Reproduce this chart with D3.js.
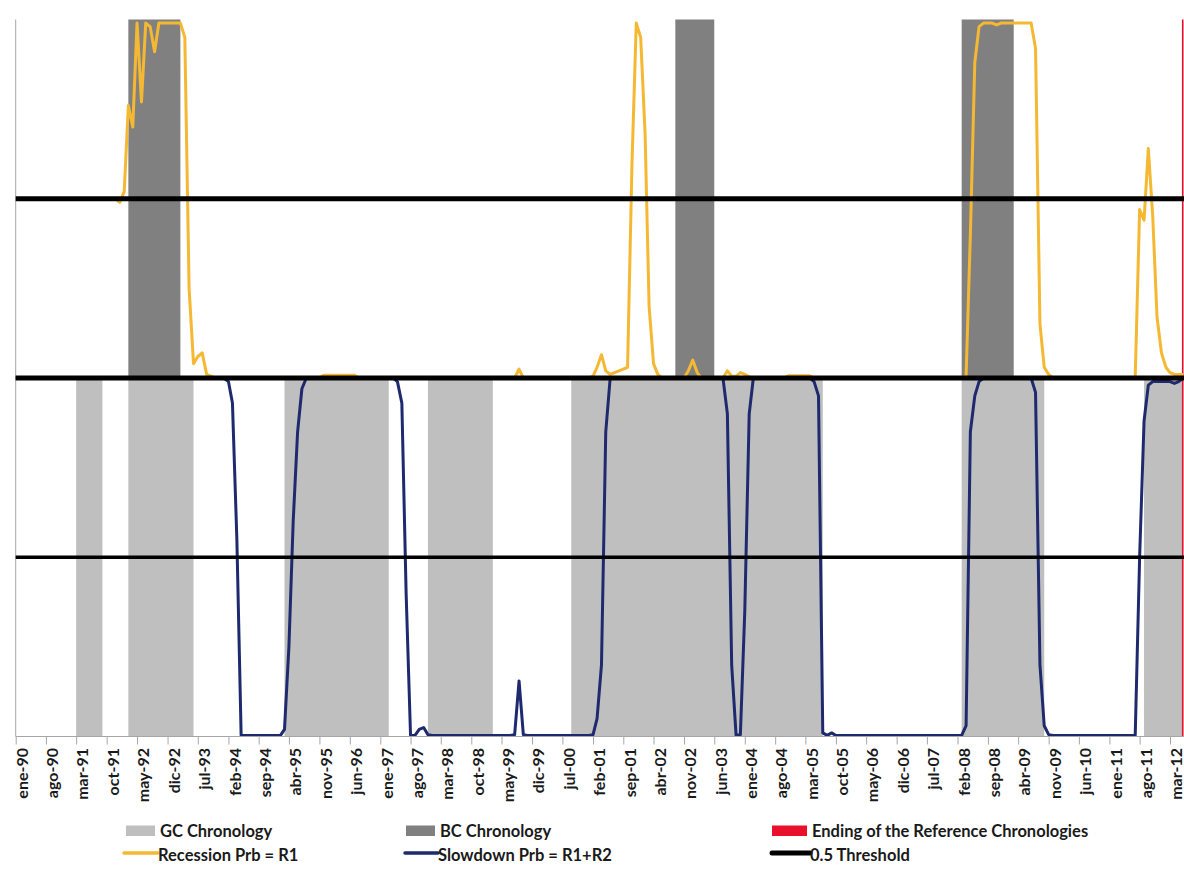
<!DOCTYPE html>
<html><head><meta charset="utf-8">
<script src="https://cdn.jsdelivr.net/npm/d3@7"></script>
<style>
body{margin:0;background:#fff}
svg{display:block}
text{font-family:Lato,"Open Sans",sans-serif;font-weight:700;fill:#1a1a1a}
</style>
</head><body><svg id="c" width="1184" height="869"></svg>
<script>
// ---------- DATA ----------
const tickLabels = ["ene-90","ago-90","mar-91","oct-91","may-92","dic-92","jul-93","feb-94","sep-94","abr-95","nov-95","jun-96","ene-97","ago-97","mar-98","oct-98","may-99","dic-99","jul-00","feb-01","sep-01","abr-02","nov-02","jun-03","ene-04","ago-04","mar-05","oct-05","may-06","dic-06","jul-07","feb-08","sep-08","abr-09","nov-09","jun-10","ene-11","ago-11","mar-12"];

const seriesStart = "1990-01";
// Recession probability R1 (monthly, from ene-90)
const recession = [
  0.5,0.5,0.5,0.5,0.5,0.5,0.5,0.5,0.5,0.5,0.5,0.5,            // 1990
  0.5,0.5,0.5,0.5,0.5,0.5,0.5,0.5,0.5,0.5,0.5,0.5,            // 1991
  0.49,0.52,0.76,0.70,0.99,0.77,0.99,0.98,0.91,0.99,0.99,0.99, // 1992
  0.99,0.99,0.99,0.95,0.25,0.04,0.06,0.07,0.01,0.005,0,0,      // 1993
  0,0,0,0,0,0,0,0,0,0,0,0,                                     // 1994
  0,0,0,0,0,0,0,0,0,0,0,0.008,                                 // 1995
  0.008,0.008,0.008,0.008,0.008,0.008,0.008,0,0,0,0,0,         // 1996
  0,0,0,0,0,0,0,0,0,0,0,0,                                     // 1997
  0,0,0,0,0,0,0,0,0,0,0,0,                                     // 1998
  0,0,0,0,0,0,0,0,0.025,0,0,0,                                 // 1999
  0,0,0,0,0,0,0,0,0,0,0,0,                                     // 2000
  0,0.005,0.03,0.065,0.02,0.01,0.015,0.02,0.025,0.03,0.6,0.99, // 2001
  0.95,0.68,0.2,0.04,0.01,0,0,0,0,0,0,0.02,                    // 2002
  0.05,0.015,0,0,0,0,0,0,0.02,0.005,0.005,0.015,               // 2003
  0.01,0.003,0,0,0,0,0,0,0,0,0.006,0.006,                      // 2004
  0.006,0.006,0.006,0.006,0,0,0,0,0,0,0,0,                     // 2005
  0,0,0,0,0,0,0,0,0,0,0,0,                                     // 2006
  0,0,0,0,0,0,0,0,0,0,0,0,                                     // 2007
  0,0,0,0.005,0.4,0.88,0.98,0.99,0.99,0.99,0.985,0.99,         // 2008
  0.99,0.99,0.99,0.99,0.99,0.99,0.99,0.92,0.15,0.03,0.01,0,    // 2009
  0,0,0,0,0,0,0,0,0,0,0,0,                                     // 2010
  0,0,0,0,0,0,0,0.47,0.44,0.64,0.45,0.17,                      // 2011
  0.07,0.03,0.015,0.01,0.01,0.01                               // 2012
];
// Slowdown probability R1+R2 (monthly, from ene-90)
const slowdown = [
  1,1,1,1,1,1,1,1,1,1,1,1,                                     // 1990
  1,1,1,1,1,1,1,1,1,1,1,1,                                     // 1991
  1,1,1,1,1,1,1,1,1,1,1,1,                                     // 1992
  1,1,1,1,1,1,1,1,1,1,1,1,                                     // 1993
  1,0.99,0.93,0.55,0.003,0.003,0.003,0.003,0.003,0.003,0.003,0.003, // 1994
  0.003,0.003,0.02,0.25,0.6,0.85,0.97,1,1,1,1,1,               // 1995
  1,1,1,1,1,1,1,1,1,1,1,1,                                     // 1996
  1,1,1,1,0.99,0.93,0.4,0.003,0.003,0.02,0.025,0.005,          // 1997
  0.003,0.003,0.003,0.003,0.003,0.003,0.003,0.003,0.003,0.003,0.003,0.003, // 1998
  0.003,0.003,0.003,0.003,0.003,0.003,0.003,0.005,0.155,0.005,0.003,0.003, // 1999
  0.003,0.003,0.003,0.003,0.003,0.003,0.003,0.003,0.003,0.003,0.003,0.003, // 2000
  0.003,0.005,0.05,0.2,0.85,1,1,1,1,1,1,1,                     // 2001
  1,1,1,1,1,1,1,1,1,1,1,1,                                     // 2002
  1,1,1,1,1,1,1,1,0.9,0.2,0.003,0.005,                         // 2003
  0.35,0.9,1,1,1,1,1,1,1,1,1,1,                                // 2004
  1,1,1,1,0.99,0.95,0.01,0.003,0.01,0.003,0.003,0.003,         // 2005
  0.003,0.003,0.003,0.003,0.003,0.003,0.003,0.003,0.003,0.003,0.003,0.003, // 2006
  0.003,0.003,0.003,0.003,0.003,0.003,0.003,0.003,0.003,0.003,0.003,0.003, // 2007
  0.003,0.003,0.003,0.03,0.85,0.95,0.99,1,1,1,1,1,             // 2008
  1,1,1,1,1,1,1,0.96,0.2,0.03,0.005,0.003,                     // 2009
  0.003,0.003,0.003,0.003,0.003,0.003,0.003,0.003,0.003,0.003,0.003,0.003, // 2010
  0.003,0.003,0.003,0.003,0.003,0.003,0.003,0.5,0.88,0.98,0.99,0.99, // 2011
  0.99,0.99,0.99,0.985,0.99,1                                  // 2012
];

// Chronologies: [first month, month after last]
const gcPeriods = [["1991-03","1991-09"],["1992-03","1993-06"],["1995-03","1997-03"],["1997-12","1999-03"],["2000-09","2005-07"],["2008-03","2009-10"],["2011-09","2012-06"]];
const bcPeriods = [["1992-03","1993-03"],["2002-09","2003-06"],["2008-03","2009-03"]];
const endOfReference = "2012-06";
const thresholds = [0.5, 1.0, 1.5];

const legendLabels = ["GC Chronology","BC Chronology","Ending of the Reference Chronologies","Recession Prb = R1","Slowdown Prb = R1+R2","0.5 Threshold"];

// ---------- CHART ----------
const svg = d3.select("#c");
const monthNum = {ene:0,feb:1,mar:2,abr:3,may:4,jun:5,jul:6,ago:7,sep:8,oct:9,nov:10,dic:11};
const parseLabel = s => { const [m,yy] = s.split("-"); const n = +yy; return new Date(n > 50 ? 1900+n : 2000+n, monthNum[m], 1); };
const parseYM = d3.timeParse("%Y-%m");
const tickDates = tickLabels.map(parseLabel);
const t0 = parseYM(seriesStart);
const dates = recession.map((_, i) => d3.timeMonth.offset(t0, i));

const plotL = 15.7, plotR = 1184;
const x = d3.scaleTime().domain([tickDates[0], tickDates[tickDates.length-1]]).range([15.7, 1170]);
const y = d3.scaleLinear().domain([0, 2]).range([736.5, 19.5]);

const COL = {gc:"#bfbfbf", bc:"#808080", red:"#e8102a", rec:"#f5b833", slow:"#1f2a6e", thr:"#000000", axis:"#a6a6a6"};

// shading
svg.append("g").selectAll("rect").data(gcPeriods).join("rect")
  .attr("x", d => x(parseYM(d[0]))).attr("width", d => Math.min(x(parseYM(d[1])), plotR) - x(parseYM(d[0])))
  .attr("y", y(1)).attr("height", y(0) - y(1)).attr("fill", COL.gc);
svg.append("g").selectAll("rect").data(bcPeriods).join("rect")
  .attr("x", d => x(parseYM(d[0]))).attr("width", d => x(parseYM(d[1])) - x(parseYM(d[0])))
  .attr("y", y(2)).attr("height", y(1) - y(2)).attr("fill", COL.bc);
// end of reference chronologies
svg.append("rect").attr("x", x(parseYM(endOfReference)) - 1.2).attr("width", 1.6)
  .attr("y", y(2)).attr("height", y(0) - y(2)).attr("fill", COL.red);

// left axis line
svg.append("line").attr("x1", plotL).attr("x2", plotL).attr("y1", y(2)).attr("y2", y(0))
  .attr("stroke", COL.axis).attr("stroke-width", 1);

// series
const recLine = d3.line().x((d,i) => x(dates[i])).y(d => y(1 + d));
const slowLine = d3.line().x((d,i) => x(dates[i])).y(d => y(d));
svg.append("path").attr("d", recLine(recession)).attr("fill","none")
  .attr("stroke", COL.rec).attr("stroke-width", 3).attr("stroke-linejoin","round");
svg.append("path").attr("d", slowLine(slowdown)).attr("fill","none")
  .attr("stroke", COL.slow).attr("stroke-width", 3).attr("stroke-linejoin","round");

// thresholds
svg.append("g").selectAll("line").data(thresholds).join("line")
  .attr("x1", plotL).attr("x2", plotR).attr("y1", d => y(d)).attr("y2", d => y(d))
  .attr("stroke", COL.thr).attr("stroke-width", d => d === 0.5 ? 3.5 : 5);

// x axis
const ax = svg.append("g").attr("transform", `translate(0,${y(0)})`)
  .call(d3.axisBottom(x).tickValues(tickDates).tickFormat((d,i) => tickLabels[i]).tickSize(8));
ax.select(".domain").remove();
ax.append("line").attr("x1", plotL).attr("x2", plotR).attr("stroke", COL.axis);
ax.selectAll(".tick line").attr("stroke", COL.axis);
ax.selectAll(".tick text")
  .attr("transform","rotate(-90)").attr("x", -11.5).attr("y", 11.8).attr("dy", 0)
  .style("text-anchor","end").style("font-family","Lato, 'Open Sans', sans-serif")
  .style("font-weight","700").style("font-size","16px").attr("fill","#1a1a1a");

// legend
const lg = svg.append("g").style("font-size","16.5px");
const rectItems = [{i:0, x:126, c:COL.gc},{i:1, x:406, c:COL.bc},{i:2, x:772, c:COL.red}];
rectItems.forEach(d => {
  lg.append("rect").attr("x", d.x).attr("y", 825.5).attr("width", d.i===2 ? 35 : 29).attr("height", 10.5).attr("fill", d.c);
  lg.append("text").attr("x", d.i===2 ? 812 : d.x + 34).attr("y", 837).text(legendLabels[d.i]);
});
const lineItems = [{i:3, x:124, w:34, c:COL.rec, sw:3.5},{i:4, x:405, w:33, c:COL.slow, sw:3.5},{i:5, x:772, w:38, c:COL.thr, sw:5}];
lineItems.forEach(d => {
  lg.append("line").attr("x1", d.x).attr("x2", d.x + d.w).attr("y1", 853).attr("y2", 853)
    .attr("stroke", d.c).attr("stroke-width", d.sw).attr("stroke-linecap","round");
  lg.append("text").attr("x", d.x + d.w).attr("y", 860.5).text(legendLabels[d.i]);
});
</script></body></html>
